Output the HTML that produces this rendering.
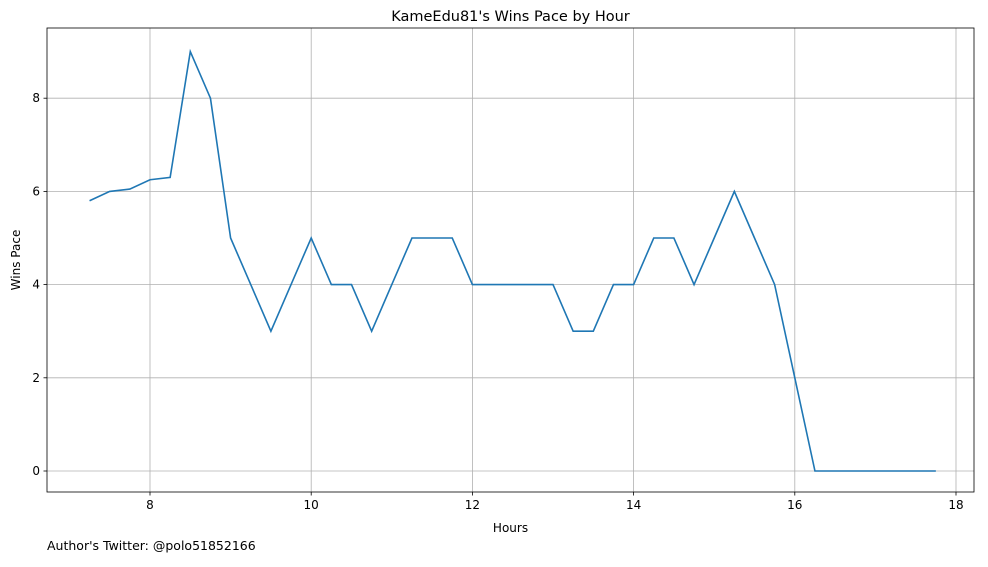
<!DOCTYPE html>
<html><head><meta charset="utf-8"><style>
body{margin:0;background:#fff;font-family:"Liberation Sans","DejaVu Sans",sans-serif;}
svg text{font-family:"DejaVu Sans","Liberation Sans",sans-serif;}
</style></head><body>
<svg id="c" width="988" height="562" xmlns="http://www.w3.org/2000/svg"></svg>
<script>
const xTicks=[8,10,12,14,16,18];
const yTicks=[0,2,4,6,8];
const hours=[7.25,7.5,7.75,8,8.25,8.5,8.75,9,9.25,9.5,9.75,10,10.25,10.5,10.75,11,11.25,11.5,11.75,12,12.25,12.5,12.75,13,13.25,13.5,13.75,14,14.25,14.5,14.75,15,15.25,15.5,15.75,16,16.25,16.5,16.75,17,17.25,17.5,17.75];
const winsPace=[5.8,6.0,6.05,6.25,6.3,9,8,5,4,3,4,5,4,4,3,4,5,5,5,4,4,4,4,4,3,3,4,4,5,5,4,5,6,5,4,2,0,0,0,0,0,0,0];
const L=47,R=974,T=28,B=492;
const xs=v=>150+(v-8)*80.6;
const ys=v=>471-v*46.6;
const svg=document.getElementById('c');
const NS='http://www.w3.org/2000/svg';
function mk(tag,attrs,txt){const e=document.createElementNS(NS,tag);for(const k in attrs)e.setAttribute(k,attrs[k]);if(txt!==undefined)e.textContent=txt;svg.appendChild(e);return e;}
xTicks.forEach(t=>{const x=xs(t);
 const g=mk('line',{x1:x,x2:x,y1:T,y2:B,stroke:'#b0b0b0','stroke-width':0.8});
 
 
 mk('line',{x1:x,x2:x,y1:B,y2:B+3.5,stroke:'#000','stroke-width':0.8});
 const l=mk('text',{x:x,y:B+17,'font-size':12,'text-anchor':'middle'},t);
 
 
});
yTicks.forEach(t=>{const y=ys(t);
 const g=mk('line',{x1:L,x2:R,y1:y,y2:y,stroke:'#b0b0b0','stroke-width':0.8});
 
 
 mk('line',{x1:L-3.5,x2:L,y1:y,y2:y,stroke:'#000','stroke-width':0.8});
 const l=mk('text',{x:L-7,y:y+4,'font-size':12,'text-anchor':'end'},t);
 
 
});
const p=mk('polyline',{points:hours.map((h,i)=>xs(h)+','+ys(winsPace[i])).join(' '),fill:'none',stroke:'#1f77b4','stroke-width':1.6});


const f=mk('rect',{x:L,y:T,width:R-L,height:B-T,fill:'none',stroke:'#000','stroke-width':0.8});


const t1=mk('text',{x:(L+R)/2,y:21,'font-size':14.5,'text-anchor':'middle'},"KameEdu81's Wins Pace by Hour");


const t2=mk('text',{x:(L+R)/2,y:532,'font-size':12,'text-anchor':'middle'},'Hours');


const t3=mk('text',{x:20,y:260,'font-size':12,'text-anchor':'middle',transform:'rotate(-90 20 260)'},'Wins Pace');


const t4=mk('text',{x:47,y:550,'font-size':12.5},"Author's Twitter: @polo51852166");


</script>
</body></html>
